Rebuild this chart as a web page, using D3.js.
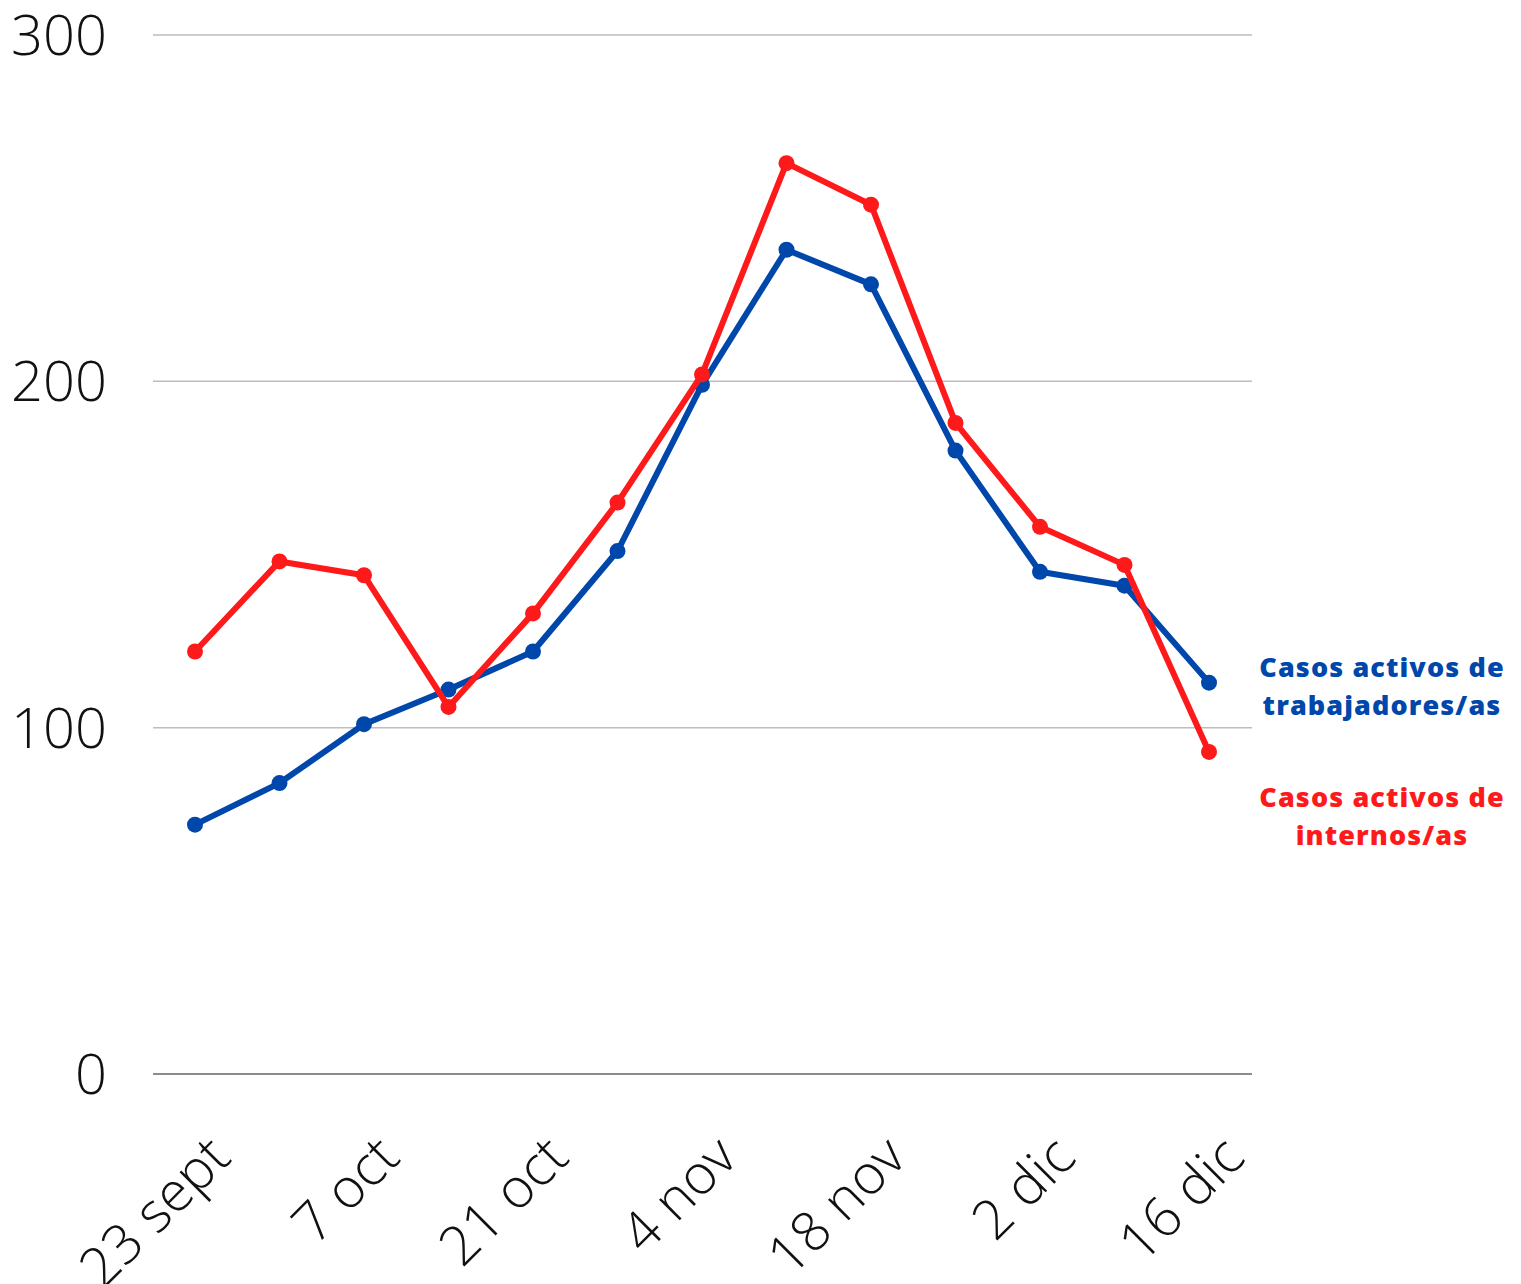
<!DOCTYPE html>
<html>
<head>
<meta charset="utf-8">
<script src="https://cdn.jsdelivr.net/npm/d3@7"></script>
<style>
  html, body { margin: 0; padding: 0; background: #fff; }
  svg { display: block; }
</style>
</head>
<body>
<svg id="chart" width="1521" height="1284"></svg>
<script>
// Weekly active COVID cases: staff vs. inmates
const fechas = ["23 sept", "30 sept", "7 oct", "14 oct", "21 oct", "28 oct", "4 nov",
                "11 nov", "18 nov", "25 nov", "2 dic", "9 dic", "16 dic"];
const trabajadores = [72, 84, 101, 111, 122, 151, 199, 238, 228, 180, 145, 141, 113];
const internos = [122, 148, 144, 106, 133, 165, 202, 263, 251, 188, 158, 147, 93];
const etiquetasX = ["23 sept", "7 oct", "21 oct", "4 nov", "18 nov", "2 dic", "16 dic"];
const ticksY = [0, 100, 200, 300];
const series = [
  { nombre: ["Casos activos de", "trabajadores/as"], valores: trabajadores, color: "#0047ab" },
  { nombre: ["Casos activos de", "internos/as"], valores: internos, color: "#fe1a1a" }
];

const svg = d3.select("#chart");
const plotLeft = 153, plotRight = 1252, plotTop = 35, plotBottom = 1074;

const x = d3.scalePoint().domain(fechas).range([195, 1209]);
const y = d3.scaleLinear().domain([0, 300]).range([plotBottom, plotTop]);

// horizontal gridlines
svg.append("g").selectAll("line").data(ticksY).join("line")
  .attr("x1", plotLeft).attr("x2", plotRight)
  .attr("y1", d => y(d)).attr("y2", d => y(d))
  .attr("stroke", d => d === 0 ? "#666" : "#bdbdbd")
  .attr("stroke-width", 1.5);

// y-axis labels
svg.append("g").selectAll("text").data(ticksY).join("text")
  .attr("x", 107).attr("y", d => y(d) + 20)
  .attr("text-anchor", "end")
  .attr("font-family", "'Open Sans', sans-serif")
  .attr("font-weight", 300)
  .attr("font-size", 56)
  .attr("fill", "#111")
  .text(d => d);

// x-axis labels, rotated
svg.append("g").selectAll("text").data(etiquetasX).join("text")
  .attr("transform", d => `translate(${x(d) + 38},1160) rotate(-45)`)
  .attr("text-anchor", "end")
  .attr("font-family", "'Open Sans', sans-serif")
  .attr("font-weight", 300)
  .attr("font-size", 55)
  .attr("fill", "#111")
  .text(d => d);

const line = d3.line()
  .x((d, i) => x(fechas[i]))
  .y(d => y(d));

series.forEach(s => {
  const g = svg.append("g");
  g.append("path")
    .datum(s.valores)
    .attr("d", line)
    .attr("fill", "none")
    .attr("stroke", s.color)
    .attr("stroke-width", 6)
    .attr("stroke-linejoin", "round");
  g.selectAll("circle").data(s.valores).join("circle")
    .attr("cx", (d, i) => x(fechas[i]))
    .attr("cy", d => y(d))
    .attr("r", 8)
    .attr("fill", s.color);
});

// series labels at the right
const etiquetaY = [677, 807];
series.forEach((s, k) => {
  svg.append("text")
    .attr("x", 1382)
    .attr("y", etiquetaY[k])
    .attr("text-anchor", "middle")
    .attr("font-family", "'Open Sans', sans-serif")
    .attr("font-weight", 800)
    .attr("font-size", 27)
    .attr("letter-spacing", 1.1)
    .attr("fill", s.color)
    .selectAll("tspan").data(s.nombre).join("tspan")
    .attr("x", 1382)
    .attr("dy", (d, i) => i === 0 ? 0 : 38)
    .text(d => d);
});
</script>
</body>
</html>
